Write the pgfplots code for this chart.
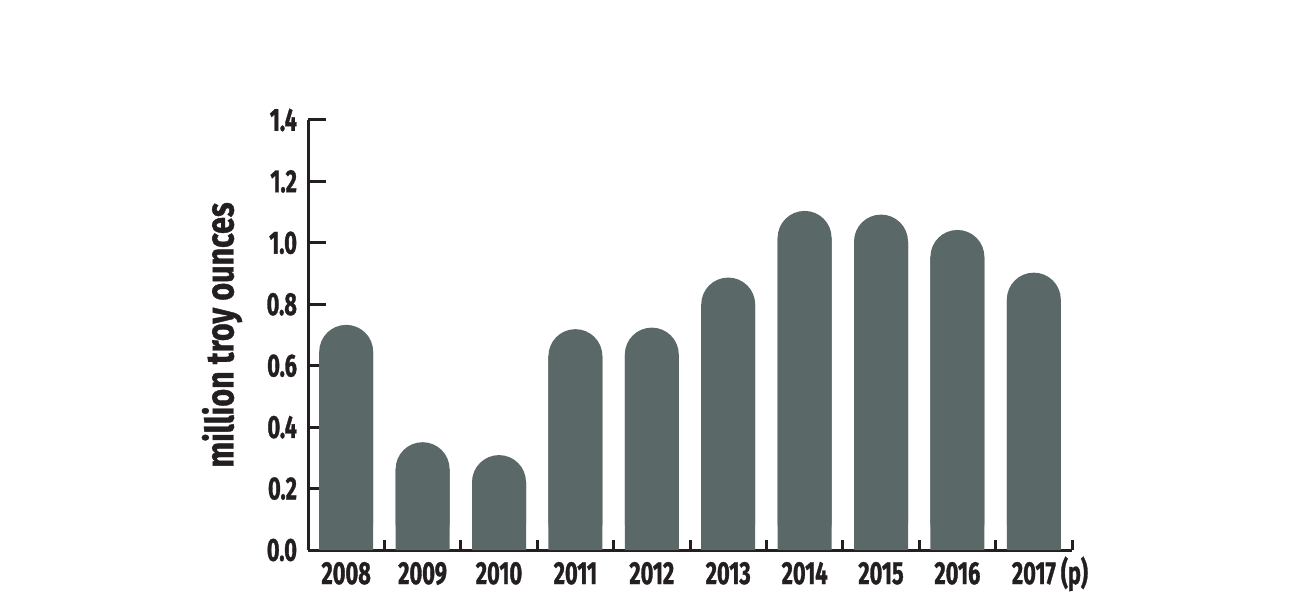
\documentclass[border=0pt]{standalone}
\usepackage{pgfplots}
\pgfplotsset{compat=1.18}
\usepackage{fontspec}
\setmainfont{Fira Sans}[FakeStretch=0.78]
\newfontfamily\tickfont{Fira Sans}[FakeStretch=0.68, FakeBold=1]
\newfontfamily\labfont{Fira Sans}[FakeStretch=0.78, FakeBold=1]
\definecolor{barcol}{HTML}{5A6868}
\definecolor{axcol}{HTML}{231F20}
\begin{document}
\begin{tikzpicture}[x=1pt,y=1pt]
\path[use as bounding box] (0,0) rectangle (650,300);
\begin{axis}[
  at={(154pt,25pt)}, anchor=south west,
  scale only axis, width=382pt, height=215pt,
  xmin=-0.5, xmax=9.5, ymin=0, ymax=1.4,
  axis x line=bottom, axis y line=left,
  axis line style={-, line width=1.5pt, color=axcol},
  ytick={0,0.2,...,1.4},
  yticklabel style={/pgf/number format/fixed, /pgf/number format/fixed zerofill, /pgf/number format/precision=1, font=\tickfont\bfseries\fontsize{16}{18}\selectfont, color=axcol, xshift=-2pt},
  /pgf/number format/assume math mode=true,
  ytick style={line width=1.5pt, color=axcol, /pgfplots/major tick length=9pt},
  tick align=inside,
  xtick={-0.5,0.5,...,9.5}, xticklabels={},
  xtick style={line width=1.5pt, color=axcol, /pgfplots/major tick length=5pt},
  extra x ticks={0,1,...,9},
  extra x tick labels={2008,2009,2010,2011,2012,2013,2014,2015,2016,2017\rlap{ (p)}},
  extra x tick style={major tick length=0pt, tick style={draw=none}, ticklabel style={font=\tickfont\bfseries\fontsize{16}{18}\selectfont, color=axcol, yshift=-2pt, text height=11.5pt, text depth=0pt}},
  ylabel={million troy ounces},
  ylabel style={font=\labfont\bfseries\fontsize{19.5}{22}\selectfont, color=axcol, at={(-43pt,107.5pt)}, anchor=center},
  clip=false,
]
\addplot[ybar, bar width=27pt, bar shift=0pt, fill=barcol, draw=none, rounded corners=13.5pt]
  coordinates {(0,0.733) (1,0.351) (2,0.309) (3,0.719) (4,0.724) (5,0.887) (6,1.104) (7,1.092) (8,1.042) (9,0.903)};
\addplot[ybar, bar width=27pt, bar shift=0pt, fill=barcol, draw=none]
  coordinates {(0,0.645) (1,0.263) (2,0.221) (3,0.631) (4,0.636) (5,0.799) (6,1.016) (7,1.004) (8,0.954) (9,0.815)};
\end{axis}
\end{tikzpicture}
\end{document}
